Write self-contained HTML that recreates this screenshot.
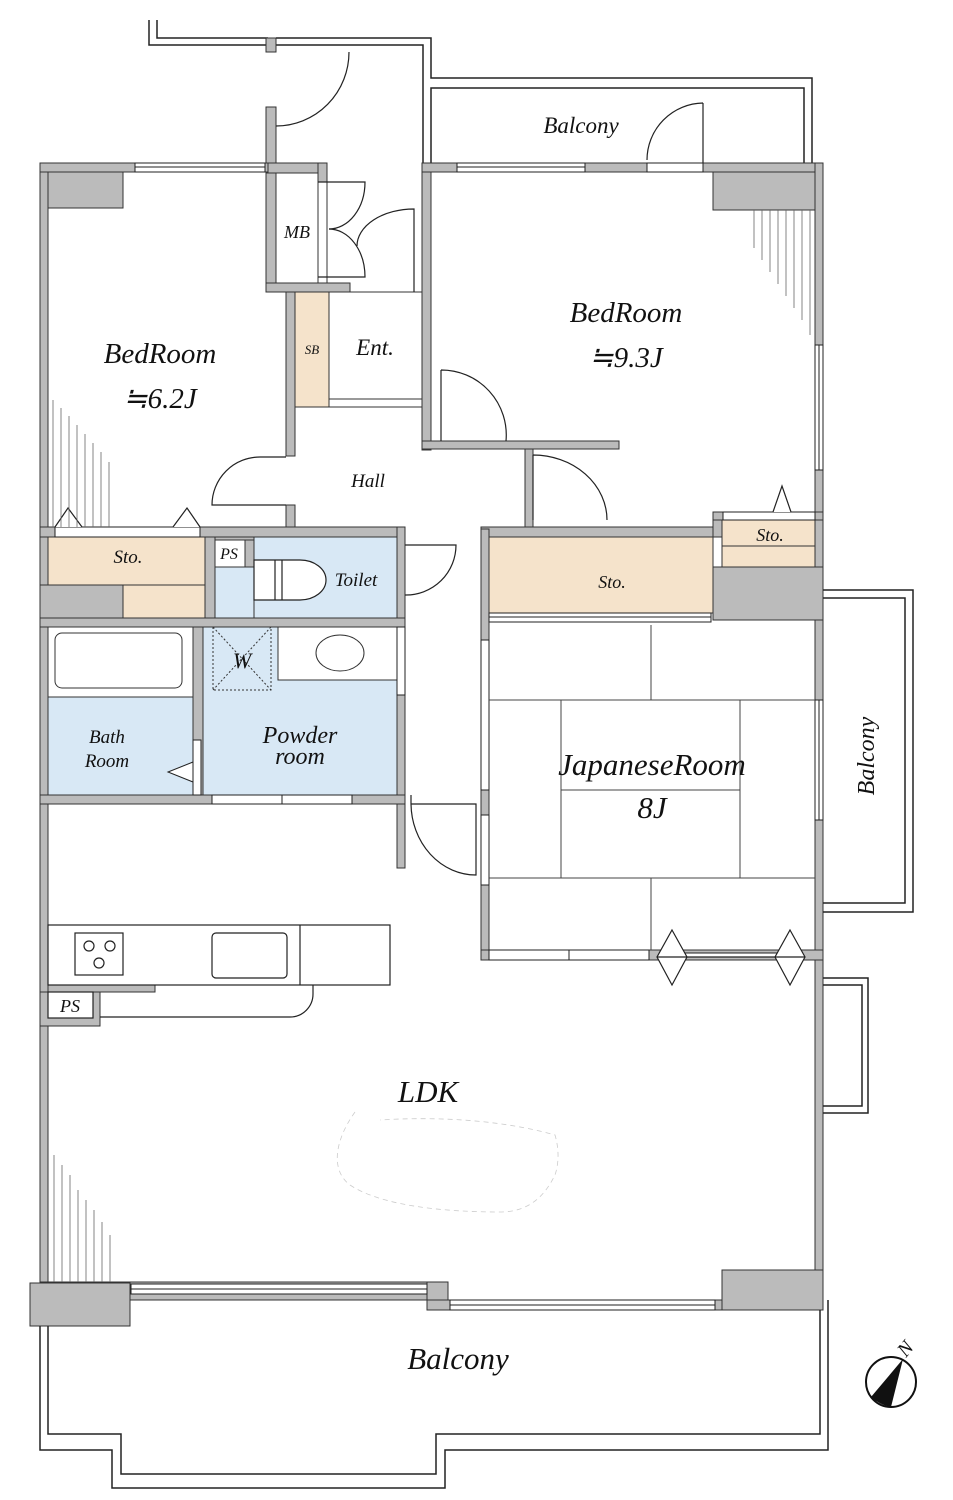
<!DOCTYPE html>
<html><head><meta charset="utf-8"><style>
html,body{margin:0;padding:0;background:#fff;}
svg{display:block;}
text{font-family:"Liberation Serif",serif;font-style:italic;fill:#111;}
</style></head><body>
<svg width="953" height="1500" viewBox="0 0 953 1500" xmlns="http://www.w3.org/2000/svg">
<g stroke="#222" stroke-width="1.5" fill="none">
<path d="M149 20 V45 H268"/><path d="M157 20 V38 H268"/>
<path d="M276 38 H431 V78 H812 V163"/><path d="M276 45 H423 V163"/>
<path d="M431 163 V88 H804 V163"/>
</g>
<g fill="#bbb" stroke="#333" stroke-width="1">
<rect x="266" y="38" width="10" height="14"/>
<rect x="266" y="107" width="10" height="185"/>
<rect x="266" y="163" width="61" height="10"/>
<rect x="266" y="283" width="84" height="9"/>
<rect x="318" y="163" width="9" height="19"/>
<rect x="40" y="163" width="8" height="1130"/>
<rect x="40" y="163" width="228" height="9"/>
<rect x="48" y="172" width="75" height="36"/>
<rect x="286" y="292" width="9" height="164"/>
<rect x="286" y="505" width="9" height="22"/>
<rect x="422" y="163" width="9" height="287"/>
<rect x="422" y="441" width="197" height="8"/>
<rect x="422" y="163" width="401" height="9"/>
<rect x="713" y="172" width="102" height="38"/>
<rect x="815" y="163" width="8" height="1147"/>
<rect x="525" y="449" width="8" height="80"/>
<rect x="481" y="527" width="241" height="10"/>
<rect x="713" y="512" width="10" height="25"/>
<rect x="713" y="512" width="110" height="8"/>
<rect x="713" y="567" width="110" height="53"/>
<rect x="481" y="529" width="8" height="431"/>
<rect x="40" y="527" width="365" height="10"/>
<rect x="205" y="537" width="10" height="90"/>
<rect x="245" y="537" width="9" height="30"/>
<rect x="215" y="537" width="39" height="3"/>
<rect x="397" y="527" width="8" height="341"/>
<rect x="40" y="585" width="83" height="35"/>
<rect x="40" y="618" width="365" height="9"/>
<rect x="193" y="627" width="10" height="170"/>
<rect x="40" y="795" width="365" height="9"/>
<rect x="481" y="950" width="342" height="10"/>
<rect x="48" y="985" width="107" height="7"/>
<rect x="40" y="992" width="60" height="34"/>
<rect x="40" y="1282" width="397" height="18"/>
<rect x="30" y="1283" width="100" height="43"/>
<rect x="427" y="1282" width="21" height="28"/>
<rect x="427" y="1300" width="396" height="10"/>
<rect x="722" y="1270" width="101" height="40"/>
</g>
<g stroke="#333" stroke-width="1">
<rect x="295" y="292" width="34" height="115" fill="#f5e3cb"/>
<rect x="329" y="292" width="93" height="107" fill="#fff"/>
<rect x="329" y="399" width="93" height="8" fill="#fff"/>
<rect x="276" y="173" width="42" height="110" fill="#fff"/>
<line x1="327" y1="182" x2="327" y2="283"/>
<line x1="350" y1="292" x2="414" y2="292"/>
<path d="M48 537 H205 V618 H123 V585 H48 Z" fill="#f5e3cb"/>
<line x1="123" y1="585" x2="205" y2="585"/>
<rect x="215" y="540" width="30" height="27" fill="#fff"/>
<rect x="254" y="537" width="143" height="81" fill="#d8e8f5"/>
<rect x="215" y="567" width="39" height="51" fill="#d8e8f5"/>
<rect x="48" y="627" width="145" height="168" fill="#fff"/>
<rect x="48" y="697" width="145" height="98" fill="#d8e8f5"/>
<rect x="55" y="633" width="127" height="55" rx="7" fill="#fff"/>
<rect x="203" y="627" width="194" height="168" fill="#d8e8f5"/>
<rect x="278" y="627" width="119" height="53" fill="#fff"/>
<ellipse cx="340" cy="653" rx="24" ry="18" fill="#fff"/>
<rect x="489" y="537" width="224" height="76" fill="#f5e3cb"/>
<rect x="722" y="520" width="93" height="47" fill="#f5e3cb"/>
<line x1="722" y1="546" x2="815" y2="546"/>
</g>
<g stroke="#222" stroke-width="1.2" fill="#fff">
<path d="M254 560 H300 A26 20 0 0 1 300 600 H254 Z"/>
<path d="M275 560 V600 M282 560 V600"/>
</g>
<g stroke="#333" stroke-width="1" stroke-dasharray="2,2" fill="none">
<rect x="213" y="627" width="58" height="63"/><path d="M213 627 L271 690 M271 627 L213 690"/>
</g>
<path d="M193 762 L168 772 L193 782" fill="#fff" stroke="#222"/>
<rect x="193" y="740" width="8" height="55" fill="#fff" stroke="#222"/>
<g fill="#fff" stroke="#222" stroke-width="1">
<rect x="135" y="163" width="130" height="9"/>
<rect x="457" y="163" width="128" height="9"/>
<rect x="647" y="163" width="56" height="9"/>
<rect x="815" y="345" width="8" height="125"/>
<rect x="212" y="795" width="70" height="9"/>
<rect x="282" y="795" width="70" height="9"/>
<rect x="397" y="627" width="8" height="68"/>
<rect x="481" y="640" width="8" height="150"/>
<rect x="481" y="815" width="8" height="70"/>
<rect x="489" y="613" width="222" height="9"/>
<rect x="489" y="950" width="80" height="10"/>
<rect x="569" y="950" width="80" height="10"/>
<rect x="660" y="953" width="140" height="4"/>
<rect x="815" y="700" width="8" height="120"/>
<rect x="131" y="1284" width="296" height="10"/>
<rect x="450" y="1300" width="265" height="10"/>
<rect x="55" y="527" width="145" height="10"/>
<rect x="723" y="512" width="92" height="8"/>
</g>
<g stroke="#222" stroke-width="1">
<line x1="135" y1="167" x2="265" y2="167"/><line x1="457" y1="167" x2="585" y2="167"/>
<line x1="131" y1="1289" x2="427" y2="1289"/><line x1="450" y1="1305" x2="715" y2="1305"/>
<line x1="819" y1="345" x2="819" y2="470"/><line x1="819" y1="700" x2="819" y2="820"/>
<line x1="489" y1="617" x2="711" y2="617"/>
</g>
<g stroke="#444" stroke-width="1" fill="none">
<line x1="489" y1="700" x2="815" y2="700"/><line x1="489" y1="878" x2="815" y2="878"/>
<line x1="651" y1="625" x2="651" y2="700"/><line x1="651" y1="878" x2="651" y2="950"/>
<line x1="561" y1="700" x2="561" y2="878"/><line x1="740" y1="700" x2="740" y2="878"/>
<line x1="561" y1="790" x2="740" y2="790"/>
</g>
<g fill="#fff" stroke="#222" stroke-width="1.2">
<path d="M672 930 L687 957 L672 985 L657 957 Z"/><path d="M790 930 L805 957 L790 985 L775 957 Z"/>
<line x1="657" y1="957" x2="805" y2="957"/>
</g>
<g stroke="#222" stroke-width="1.2" fill="none">
<path d="M349 52 A73 74 0 0 1 276 126"/>
<path d="M318 182 H365 A36 47 0 0 1 329 229"/>
<path d="M329 229 A36 48 0 0 1 365 277 H318"/>
<path d="M414 292 V209 A57 37 0 0 0 357 246"/>
<path d="M441 370 A65 65 0 0 1 506 441 M441 370 V441"/>
<path d="M533 455 A74 65 0 0 1 607 520 M533 455 V520"/>
<path d="M286 457 H260 A48 48 0 0 0 212 505 H286"/>
<path d="M405 545 H456 A50 50 0 0 1 405 595"/>
<path d="M411 795 V804 M411 804 A65 72 0 0 0 476 875 V804 H411"/>
<path d="M703 103 V163 M703 103 A57 57 0 0 0 647 160"/>
</g>
<g fill="#fff" stroke="#222" stroke-width="1.2">
<path d="M55 527 L68 508 L82 527"/><path d="M173 527 L187 508 L200 527"/>
<path d="M773 512 L782 486 L791 512"/>
</g>
<g stroke="#666" stroke-width="0.8">
<line x1="53" y1="400" x2="53" y2="527"/><line x1="61" y1="408" x2="61" y2="527"/><line x1="69" y1="416" x2="69" y2="527"/>
<line x1="77" y1="425" x2="77" y2="527"/><line x1="85" y1="434" x2="85" y2="527"/><line x1="93" y1="443" x2="93" y2="527"/>
<line x1="101" y1="452" x2="101" y2="527"/><line x1="109" y1="462" x2="109" y2="527"/>
<line x1="754" y1="210" x2="754" y2="248"/><line x1="762" y1="210" x2="762" y2="260"/><line x1="770" y1="210" x2="770" y2="272"/>
<line x1="778" y1="210" x2="778" y2="284"/><line x1="786" y1="210" x2="786" y2="296"/><line x1="794" y1="210" x2="794" y2="308"/>
<line x1="802" y1="210" x2="802" y2="320"/><line x1="810" y1="210" x2="810" y2="335"/>
<line x1="54" y1="1155" x2="54" y2="1282"/><line x1="62" y1="1165" x2="62" y2="1282"/><line x1="70" y1="1175" x2="70" y2="1282"/>
<line x1="78" y1="1190" x2="78" y2="1282"/><line x1="86" y1="1200" x2="86" y2="1282"/><line x1="94" y1="1210" x2="94" y2="1282"/>
<line x1="102" y1="1222" x2="102" y2="1282"/><line x1="110" y1="1235" x2="110" y2="1282"/>
</g>
<g stroke="#222" stroke-width="1.2" fill="#fff">
<rect x="48" y="925" width="342" height="60"/>
<line x1="300" y1="925" x2="300" y2="985"/>
<rect x="75" y="933" width="48" height="42"/>
<rect x="212" y="933" width="75" height="45" rx="4"/>
<rect x="48" y="992" width="45" height="26"/>
<path d="M100 1017 H290 A23 23 0 0 0 313 994 V985" fill="none"/>
<circle cx="89" cy="946" r="5"/><circle cx="110" cy="946" r="5"/><circle cx="99" cy="963" r="5"/>
</g>
<g stroke="#222" stroke-width="1.5" fill="none">
<path d="M823 590 H913 V912 H823"/><path d="M823 598 H905 V903 H823"/>
<path d="M823 978 H868 V1113 H823"/><path d="M823 985 H862 V1106 H823"/>
<path d="M828 1300 V1450 H445 V1488 H112 V1450 H40 V1326"/>
<path d="M820 1310 V1434 H436 V1474 H121 V1434 H48 V1326"/>
</g>
<path d="M355 1112 C335 1140 330 1170 350 1185 C380 1205 440 1212 500 1212 C530 1212 545 1195 555 1175 C560 1160 558 1145 555 1135 C520 1125 460 1115 380 1120" fill="none" stroke="#ccc" stroke-width="0.8" stroke-dasharray="5,4"/>
<circle cx="891" cy="1382" r="25" fill="#fff" stroke="#111" stroke-width="2"/>
<path d="M903 1359 L871 1397 Q880 1405 891 1407 Z" fill="#111"/>
<text x="160" y="363" font-size="29" text-anchor="middle">BedRoom</text>
<text x="160" y="408" font-size="29" text-anchor="middle">≒6.2J</text>
<text x="626" y="322" font-size="29" text-anchor="middle">BedRoom</text>
<text x="626" y="367" font-size="29" text-anchor="middle">≒9.3J</text>
<text x="581" y="133" font-size="23" text-anchor="middle">Balcony</text>
<text x="297" y="238" font-size="18" text-anchor="middle">MB</text>
<text x="312" y="354" font-size="13" text-anchor="middle">SB</text>
<text x="375" y="355" font-size="23" text-anchor="middle">Ent.</text>
<text x="368" y="487" font-size="19" text-anchor="middle">Hall</text>
<text x="128" y="563" font-size="19" text-anchor="middle">Sto.</text>
<text x="229" y="559" font-size="16" text-anchor="middle">PS</text>
<text x="356" y="586" font-size="19" text-anchor="middle">Toilet</text>
<text x="770" y="541" font-size="18" text-anchor="middle">Sto.</text>
<text x="612" y="588" font-size="18" text-anchor="middle">Sto.</text>
<text x="242" y="668" font-size="22" text-anchor="middle">W</text>
<text x="107" y="743" font-size="19" text-anchor="middle">Bath</text>
<text x="107" y="767" font-size="19" text-anchor="middle">Room</text>
<text x="300" y="743" font-size="24" text-anchor="middle">Powder</text>
<text x="300" y="764" font-size="24" text-anchor="middle">room</text>
<text x="652" y="775" font-size="31" text-anchor="middle">JapaneseRoom</text>
<text x="652" y="818" font-size="31" text-anchor="middle">8J</text>
<text x="0" y="0" font-size="24" text-anchor="middle" transform="translate(874,756) rotate(-90)">Balcony</text>
<text x="428" y="1102" font-size="31" text-anchor="middle">LDK</text>
<text x="70" y="1012" font-size="18" text-anchor="middle">PS</text>
<text x="458" y="1369" font-size="31" text-anchor="middle">Balcony</text>
<text x="0" y="0" font-size="20" transform="translate(906,1358) rotate(-50)">N</text>
</svg>
</body></html>
